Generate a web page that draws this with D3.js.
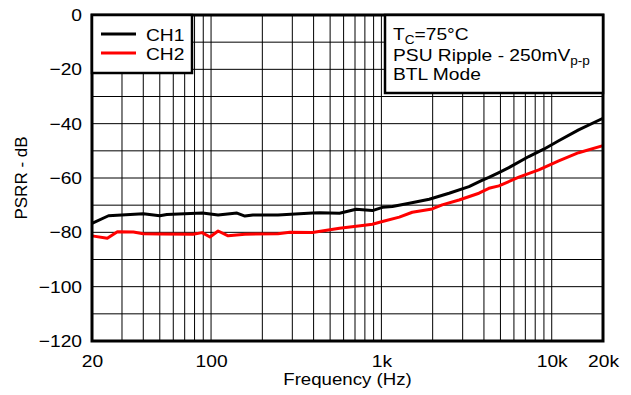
<!DOCTYPE html>
<html>
<head>
<meta charset="utf-8">
<script src="https://cdn.jsdelivr.net/npm/d3@7"></script>
<style>
  html, body { margin: 0; padding: 0; background: #fff; }
  svg { display: block; font-family: "Liberation Sans", Arial, sans-serif; }
</style>
</head>
<body>
<svg id="chart" width="631" height="395"></svg>
<script>
// ---- data ----
const ch1Freq = [20, 25, 40, 50, 55, 89, 110, 142, 158, 176, 247, 394, 434, 568, 710, 885, 1014, 1160, 1458, 1909, 2497, 3268, 3892, 4276, 4897, 5600, 7332, 8977, 10990, 14380, 20000];
const ch1Db   = [-76.7, -73.9, -73.2, -73.9, -73.4, -72.9, -73.6, -72.9, -74, -73.6, -73.6, -72.9, -72.8, -73, -71.5, -72, -70.8, -70.5, -69.3, -67.8, -65.6, -63.2, -60.9, -59.8, -58, -56.2, -52.1, -49.4, -46.3, -42.3, -38];
const ch2Freq = [20, 24.6, 28.2, 35, 40, 50, 78.5, 88.6, 98.6, 110, 126, 158, 247, 290, 394, 568, 774, 885, 1014, 1274, 1518, 1986, 2274, 2858, 3740, 4276, 4897, 6412, 8394, 10990, 14380, 20000];
const ch2Db   = [-81.3, -82.2, -79.8, -79.9, -80.5, -80.6, -80.7, -80.1, -81.7, -79.5, -81.3, -80.7, -80.5, -80, -80.1, -78.5, -77.5, -77, -76, -74.4, -72.6, -71.4, -69.9, -68.1, -65.6, -63.8, -62.9, -59.7, -57, -53.7, -50.7, -48.1];
const xTickValues = [20, 100, 1000, 10000, 20000];
const xTickLabels = ["20", "100", "1k", "10k", "20k"];
const yTickValues = [0, -20, -40, -60, -80, -100, -120];
const seriesNames = ["CH1", "CH2"];
const seriesColors = ["#000000", "#ff0000"];

// ---- layout ----
const STRETCH = 1.13; // reference text is horizontally wide
function widen(sel) {
  sel.each(function () {
    const len = this.getComputedTextLength();
    d3.select(this).attr("textLength", len * STRETCH).attr("lengthAdjust", "spacingAndGlyphs");
  });
}
const svg = d3.select("#chart");
const L = 92, R = 603, T = 15, B = 341;
const x = d3.scaleLog().domain([20, 20000]).range([L, R]);
const y = d3.scaleLinear().domain([-120, 0]).range([B, T]);

// grid
const minorX = [];
for (let dec = 10; dec <= 10000; dec *= 10) {
  for (let k = 1; k <= 9; k++) {
    const v = dec * k;
    if (v > 20 && v < 20000) minorX.push(v);
  }
}
const g = svg.append("g");
g.selectAll("line.vx").data(minorX).enter().append("line")
  .attr("x1", d => x(d)).attr("x2", d => x(d))
  .attr("y1", T).attr("y2", B)
  .attr("stroke", "#000").attr("stroke-width", 1);
const gridY = d3.range(-110, 0, 10);
g.selectAll("line.hy").data(gridY).enter().append("line")
  .attr("x1", L).attr("x2", R)
  .attr("y1", d => y(d)).attr("y2", d => y(d))
  .attr("stroke", "#000").attr("stroke-width", 1);

// series
const line = d3.line().x(d => x(d[0])).y(d => y(d[1])).curve(d3.curveLinear);
const ch2 = ch2Freq.map((f, i) => [f, ch2Db[i]]);
const ch1 = ch1Freq.map((f, i) => [f, ch1Db[i]]);
svg.append("path").datum(ch2).attr("d", line)
  .attr("fill", "none").attr("stroke", seriesColors[1]).attr("stroke-width", 3).attr("stroke-linejoin", "round");
svg.append("path").datum(ch1).attr("d", line)
  .attr("fill", "none").attr("stroke", seriesColors[0]).attr("stroke-width", 3).attr("stroke-linejoin", "round");

// frame
svg.append("rect").attr("x", L).attr("y", T).attr("width", R - L).attr("height", B - T)
  .attr("fill", "none").attr("stroke", "#000").attr("stroke-width", 3);

// axes (labels only)
const xAxis = d3.axisBottom(x).tickValues(xTickValues)
  .tickFormat((d, i) => xTickLabels[i]).tickSize(0).tickPadding(14);
const xa = svg.append("g").attr("transform", `translate(0,${B})`).call(xAxis);
xa.select(".domain").remove();
xa.selectAll("text").attr("font-size", 17).attr("fill", "#000")
  .attr("font-family", "Liberation Sans, Arial, sans-serif").call(widen);

const yAxis = d3.axisLeft(y).tickValues(yTickValues).tickSize(0).tickPadding(10);
const ya = svg.append("g").attr("transform", `translate(${L},0)`).call(yAxis);
ya.select(".domain").remove();
ya.selectAll("text").attr("font-size", 17).attr("fill", "#000")
  .attr("font-family", "Liberation Sans, Arial, sans-serif").call(widen);

// axis titles
svg.append("text").attr("x", (L + R) / 2).attr("y", 385)
  .attr("text-anchor", "middle").attr("font-size", 16.5).text("Frequency (Hz)").call(widen);
svg.append("text").attr("transform", `translate(27,${(T + B) / 2}) rotate(-90)`)
  .attr("text-anchor", "middle").attr("font-size", 17).text("PSRR - dB");

// legend
svg.append("rect").attr("x", L).attr("y", T).attr("width", 100).attr("height", 58)
  .attr("fill", "#fff").attr("stroke", "#000").attr("stroke-width", 2.5);
seriesNames.forEach((name, i) => {
  const yy = 34 + i * 19;
  svg.append("line").attr("x1", 101).attr("x2", 136).attr("y1", yy).attr("y2", yy)
    .attr("stroke", seriesColors[i]).attr("stroke-width", 3);
  svg.append("text").attr("x", 146).attr("y", yy + 6.5).attr("font-size", 17).text(name).call(widen);
});

// annotation box
svg.append("rect").attr("x", 385).attr("y", T).attr("width", R - 385).attr("height", 78)
  .attr("fill", "#fff").attr("stroke", "#000").attr("stroke-width", 2.5);
function annot(yy, parts) {
  const t = svg.append("text").attr("x", 393).attr("y", yy).attr("font-size", 17);
  parts.forEach(p => {
    const s = t.append("tspan").text(p.text);
    if (p.sub) s.attr("font-size", 12).attr("dy", 4);
    if (p.back) s.attr("dy", -4);
  });
  t.call(widen);
}
annot(39.5, [{ text: "T" }, { text: "C", sub: true }, { text: "=75°C", back: true }]);
annot(61, [{ text: "PSU Ripple - 250mV" }, { text: "p-p", sub: true }]);
annot(79.5, [{ text: "BTL Mode" }]);
</script>
</body>
</html>
